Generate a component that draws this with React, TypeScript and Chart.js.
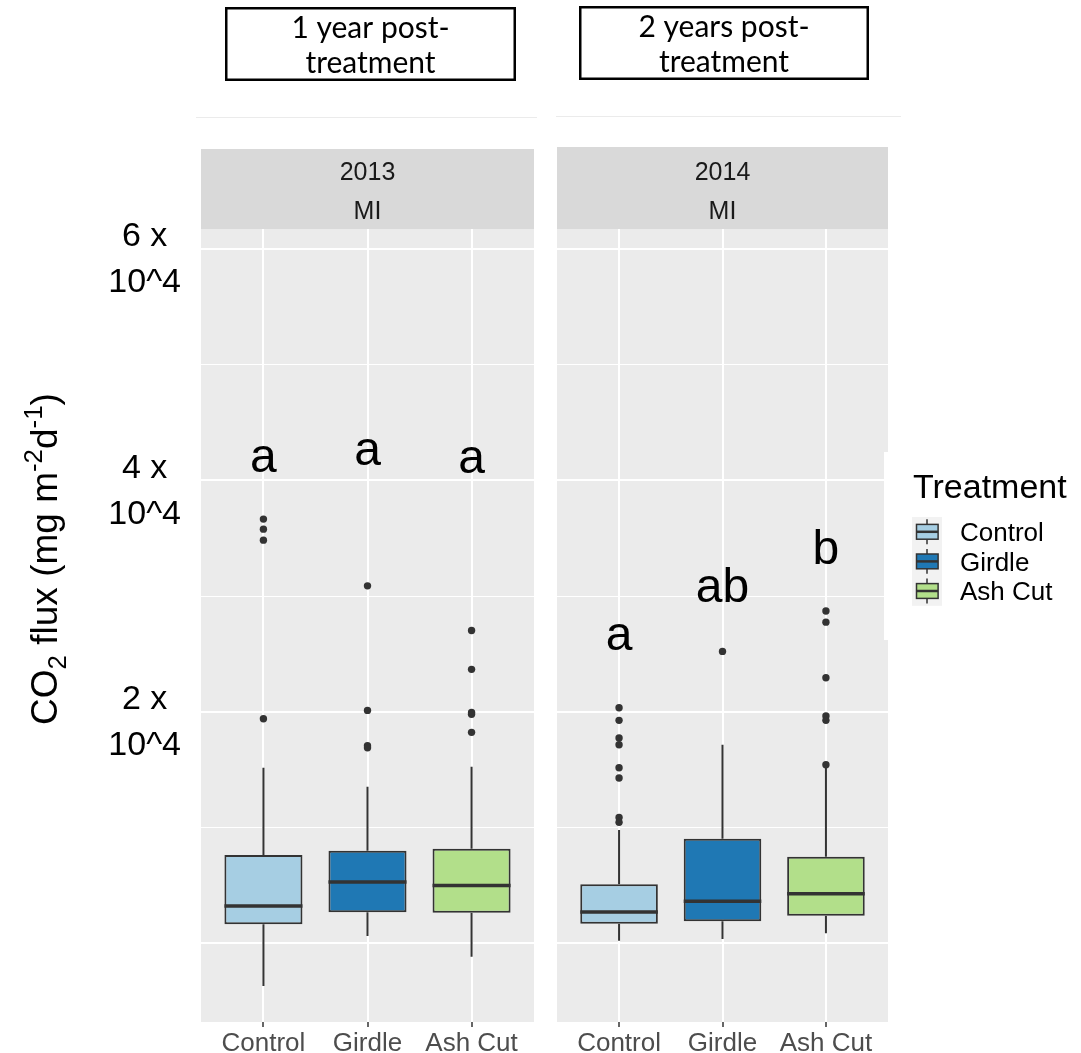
import React, { useEffect, useRef } from 'react';
import { Chart, registerables } from 'chart.js';

Chart.register(...registerables);

const FONT = '"Liberation Sans", Arial, Helvetica, sans-serif';
const HEAD_FONT = 'Lato, "Noto Sans", sans-serif';

// ---------- data ----------
const categories = ['Control', 'Girdle', 'Ash Cut'];
const fillColors = ['#a6cee3', '#1f78b4', '#b2df8a'];
const panelYears = ['2013', '2014'];
const panelSite = 'MI';
const headerLines = [
  ['1 year post-', 'treatment'],
  ['2 years post-', 'treatment'],
];
const legendTitle = 'Treatment';

// 2013 (1 year post-treatment)
const whiskerLow2013 = [-3720, 600, -1190];
const q1_2013 = [1620, 2650, 2620];
const median2013 = [3200, 5270, 4970];
const q3_2013 = [7610, 7980, 8150];
const whiskerHigh2013 = [15150, 13510, 15240];
const outliersControl2013 = [36650, 35780, 34830, 19390];
const outliersGirdle2013 = [30880, 20110, 17050, 16870];
const outliersAshCut2013 = [27020, 23660, 19930, 19780, 18210];
const letters2013 = ['a', 'a', 'a'];
const letterY2013 = [40710, 41310, 40620];

// 2014 (2 years post-treatment)
const whiskerLow2014 = [200, 350, 840];
const q1_2014 = [1670, 1880, 2360];
const median2014 = [2680, 3600, 4260];
const q3_2014 = [5070, 9020, 7460];
const whiskerHigh2014 = [9770, 17140, 15240];
const outliersControl2014 = [20340, 19250, 17720, 17140, 15150, 14260, 10860, 10430];
const outliersGirdle2014 = [25210];
const outliersAshCut2014 = [28700, 27740, 22930, 19620, 19250, 15410];
const letters2014 = ['a', 'ab', 'b'];
const letterY2014 = [25320, 29470, 32760];

// axis
const yTickValues = [0, 10000, 20000, 30000, 40000, 50000, 60000];
const yLabelValues = [20000, 40000, 60000];
const yLabelTexts = [['2 x', '10^4'], ['4 x', '10^4'], ['6 x', '10^4']];
const yMin = -6830;
const yMax = 61730;
const xMin = 0.4;
const xMax = 3.6;

const panels = [
  {
    lo: whiskerLow2013, q1: q1_2013, med: median2013, q3: q3_2013, hi: whiskerHigh2013,
    outliers: [outliersControl2013, outliersGirdle2013, outliersAshCut2013],
    letters: letters2013, letterY: letterY2013,
  },
  {
    lo: whiskerLow2014, q1: q1_2014, med: median2014, q3: q3_2014, hi: whiskerHigh2014,
    outliers: [outliersControl2014, outliersGirdle2014, outliersAshCut2014],
    letters: letters2014, letterY: letterY2014,
  },
];

// ---------- layout ----------
const W_A = 545;
const W_B = 1081 - W_A;
const H = 1053;
const PLOT_TOP = 229;
const X_AXIS_H = 31;
const BOX_HALF = 0.375;

function drawRich(ctx: CanvasRenderingContext2D, parts: { t: string; s: number; dy: number }[], size: number, cx: number, cy: number) {
  let total = 0;
  const widths: number[] = [];
  parts.forEach((p) => {
    ctx.font = `${size * p.s}px ${FONT}`;
    const w = ctx.measureText(p.t).width;
    widths.push(w);
    total += w;
  });
  ctx.save();
  ctx.translate(cx, cy);
  ctx.rotate(-Math.PI / 2);
  ctx.textAlign = 'left';
  ctx.textBaseline = 'alphabetic';
  ctx.fillStyle = '#000';
  let x = -total / 2;
  parts.forEach((p, i) => {
    ctx.font = `${size * p.s}px ${FONT}`;
    ctx.fillText(p.t, x, p.dy * size);
    x += widths[i];
  });
  ctx.restore();
}

function buildConfig(pi: number): any {
  const p = panels[pi];
  const offsetX = pi === 0 ? 0 : W_A;
  const stripTop = pi === 0 ? 149 : 147;

  const whiskers: any[] = [];
  const medians: any[] = [];
  const outlierPts: any[] = [];
  categories.forEach((_, i) => {
    const x = i + 1;
    whiskers.push({ x, y: p.lo[i] }, { x, y: p.q1[i] }, { x, y: null }, { x, y: p.q3[i] }, { x, y: p.hi[i] }, { x, y: null });
    medians.push({ x: x - BOX_HALF, y: p.med[i] }, { x: x + BOX_HALF, y: p.med[i] }, { x: x + BOX_HALF, y: null });
    p.outliers[i].forEach((v) => outlierPts.push({ x, y: v }));
  });

  const decor = {
    id: 'decor' + pi,
    beforeDraw(chart: any) {
      const { ctx, chartArea: a } = chart;
      ctx.save();
      ctx.fillStyle = '#ebebeb';
      ctx.fillRect(a.left, a.top, a.right - a.left, a.bottom - a.top);
      ctx.fillStyle = '#d9d9d9';
      ctx.fillRect(a.left, stripTop, a.right - a.left, a.top - stripTop);
      ctx.fillStyle = '#1a1a1a';
      ctx.font = `25px ${FONT}`;
      ctx.textAlign = 'center';
      ctx.textBaseline = 'alphabetic';
      const cx = (a.left + a.right) / 2;
      ctx.fillText(panelYears[pi], cx, 180);
      ctx.fillText(panelSite, cx, 219);

      // faint separator line
      ctx.strokeStyle = '#ebebeb';
      ctx.lineWidth = 1;
      ctx.beginPath();
      if (pi === 0) { ctx.moveTo(196, 117.5); ctx.lineTo(537, 117.5); }
      else { ctx.moveTo(556 - offsetX, 116.5); ctx.lineTo(901 - offsetX, 116.5); }
      ctx.stroke();

      // header box
      const bx = pi === 0 ? 225 : 579 - offsetX;
      const by = pi === 0 ? 7 : 6;
      const bw = pi === 0 ? 291 : 290;
      const bh = 74;
      ctx.strokeStyle = '#000';
      ctx.lineWidth = 2.5;
      ctx.strokeRect(bx + 1.25, by + 1.25, bw - 2.5, bh - 2.5);
      ctx.fillStyle = '#000';
      ctx.font = `30px ${HEAD_FONT}`;
      ctx.fillText(headerLines[pi][0], bx + bw / 2, by + 31);
      ctx.fillText(headerLines[pi][1], bx + bw / 2, by + 66);
      ctx.restore();
    },
    afterDatasetsDraw(chart: any) {
      const { ctx } = chart;
      const xs = chart.scales.x;
      const ys = chart.scales.y;
      ctx.save();
      ctx.fillStyle = '#000';
      ctx.font = `48px ${FONT}`;
      ctx.textAlign = 'center';
      ctx.textBaseline = 'alphabetic';
      p.letters.forEach((l, i) => {
        ctx.fillText(l, xs.getPixelForValue(i + 1), ys.getPixelForValue(p.letterY[i]));
      });
      ctx.restore();
    },
    afterDraw(chart: any) {
      const { ctx } = chart;
      ctx.save();
      if (pi === 0) {
        drawRich(ctx, [
          { t: 'CO', s: 1, dy: 0 },
          { t: '2', s: 0.7, dy: 0.25 },
          { t: ' flux (mg m', s: 1, dy: 0 },
          { t: '-2', s: 0.7, dy: -0.4 },
          { t: 'd', s: 1, dy: 0 },
          { t: '-1', s: 0.7, dy: -0.4 },
          { t: ')', s: 1, dy: 0 },
        ], 37, 57, 559);
      } else {
        // white notch where legend background overlaps panel edge
        ctx.fillStyle = '#ffffff';
        ctx.fillRect(884 - offsetX, 452, 8, 188);
        // legend
        const lx = 912 - offsetX;
        const keyTop = 517;
        const keyH = 29.6;
        const keyW = 30;
        ctx.fillStyle = '#f2f2f2';
        ctx.fillRect(lx, keyTop, keyW, keyH * 3);
        categories.forEach((c, i) => {
          const top = keyTop + i * keyH;
          const mx = lx + keyW / 2;
          ctx.strokeStyle = '#333333';
          ctx.lineWidth = 1.5;
          ctx.beginPath();
          ctx.moveTo(mx, top + 0.08 * keyH); ctx.lineTo(mx, top + 0.25 * keyH);
          ctx.moveTo(mx, top + 0.75 * keyH); ctx.lineTo(mx, top + 0.92 * keyH);
          ctx.stroke();
          ctx.fillStyle = fillColors[i];
          const rx = lx + 0.15 * keyW, ry = top + 0.25 * keyH, rw = 0.72 * keyW, rh = 0.5 * keyH;
          ctx.fillRect(rx, ry, rw, rh);
          ctx.strokeRect(rx, ry, rw, rh);
          ctx.lineWidth = 2.5;
          ctx.beginPath();
          ctx.moveTo(rx, top + keyH / 2); ctx.lineTo(rx + rw, top + keyH / 2);
          ctx.stroke();
          ctx.fillStyle = '#000';
          ctx.font = `26px ${FONT}`;
          ctx.textAlign = 'left';
          ctx.textBaseline = 'middle';
          ctx.fillText(c, 960 - offsetX, top + keyH / 2 + 2);
        });
        ctx.fillStyle = '#000';
        ctx.font = `34px ${FONT}`;
        ctx.textAlign = 'left';
        ctx.textBaseline = 'alphabetic';
        ctx.fillText(legendTitle, 913 - offsetX, 498);
      }
      ctx.restore();
    },
  };

  return {
    type: 'bar',
    data: {
      datasets: [
        {
          type: 'line', data: medians, borderColor: '#333333', borderWidth: 3.5, borderCapStyle: 'butt',
          pointRadius: 0, spanGaps: false, order: 0,
        },
        {
          type: 'scatter', data: outlierPts, backgroundColor: '#333333', borderWidth: 0,
          pointRadius: 3.7, order: 1,
        },
        {
          type: 'bar', data: categories.map((_, i) => ({ x: i + 1, y: [p.q1[i], p.q3[i]] })),
          backgroundColor: fillColors, borderColor: '#333333', borderWidth: 2, borderSkipped: false,
          barPercentage: BOX_HALF * 2, categoryPercentage: 1, order: 2,
        },
        {
          type: 'line', data: whiskers, borderColor: '#333333', borderWidth: 2, pointRadius: 0,
          spanGaps: false, order: 3,
        },
      ],
    },
    options: {
      responsive: false,
      animation: false,
      devicePixelRatio: 1,
      events: [],
      layout: { padding: { top: PLOT_TOP, bottom: 0, left: 0, right: pi === 0 ? W_A - 534 : W_B - (888 - W_A) } },
      plugins: { legend: { display: false }, tooltip: { enabled: false }, title: { display: false } },
      scales: {
        x: {
          type: 'linear', min: xMin, max: xMax, offset: false,
          afterBuildTicks: (s: any) => { s.ticks = categories.map((_, i) => ({ value: i + 1 })); },
          afterFit: (s: any) => { s.height = X_AXIS_H; s.paddingLeft = 0; s.paddingRight = 0; },
          grid: { offset: false, color: '#ffffff', lineWidth: 2, drawTicks: true, tickLength: 5, tickColor: '#333333', tickWidth: 1.5 },
          border: { display: false },
          ticks: {
            autoSkip: false, maxRotation: 0, minRotation: 0, padding: 1,
            color: '#4d4d4d', font: { family: FONT, size: 26 },
            callback: (v: any) => categories[Math.round(v) - 1] ?? '',
          },
        },
        y: {
          type: 'linear', min: yMin, max: yMax,
          afterBuildTicks: (s: any) => { s.ticks = yTickValues.map((v) => ({ value: v })); },
          afterFit: (s: any) => { s.width = pi === 0 ? 201 : 557 - W_A; s.paddingTop = 0; s.paddingBottom = 0; },
          grid: {
            color: '#ffffff', drawTicks: false,
            lineWidth: (c: any) => (c.tick && c.tick.value % 20000 === 0 ? 2 : 1),
          },
          border: { display: false },
          ticks: {
            display: pi === 0, crossAlign: 'center', padding: 20, labelOffset: 11,
            color: '#000000', font: { family: FONT, size: 34, lineHeight: 1.35 },
            callback: (v: any) => {
              const k = yLabelValues.indexOf(v);
              return k >= 0 ? yLabelTexts[k] : '';
            },
          },
        },
      },
    },
    plugins: [decor],
  };
}

export default function App() {
  const refA = useRef<HTMLCanvasElement>(null);
  const refB = useRef<HTMLCanvasElement>(null);
  useEffect(() => {
    const a = new Chart(refA.current as HTMLCanvasElement, buildConfig(0));
    const b = new Chart(refB.current as HTMLCanvasElement, buildConfig(1));
    return () => { a.destroy(); b.destroy(); };
  }, []);
  return (
    <div style={{ position: 'absolute', left: 0, top: 0, width: 1081, height: H, overflow: 'hidden', background: '#ffffff' }}>
      <canvas ref={refA} width={W_A} height={H} style={{ position: 'absolute', left: 0, top: 0, width: W_A, height: H }} />
      <canvas ref={refB} width={W_B} height={H} style={{ position: 'absolute', left: W_A, top: 0, width: W_B, height: H }} />
    </div>
  );
}
